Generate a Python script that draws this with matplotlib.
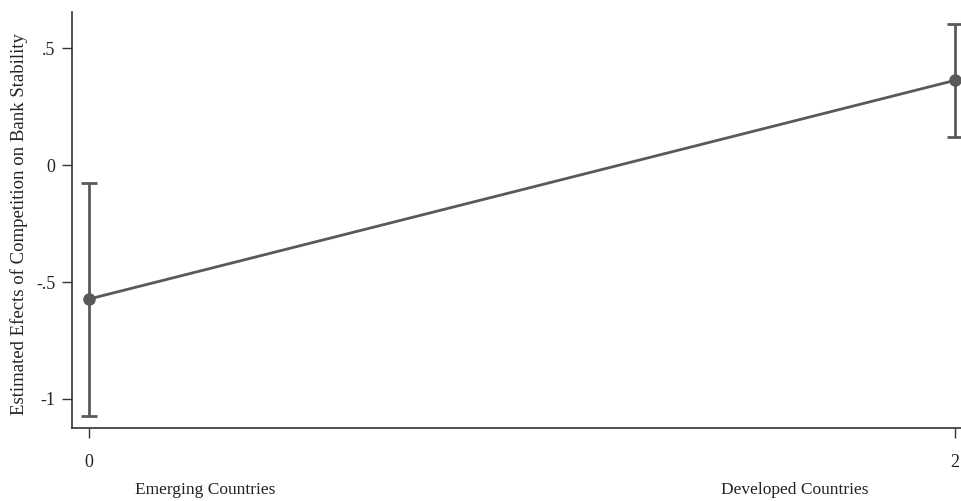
import matplotlib
matplotlib.use('Agg')
from matplotlib import pyplot as plt
import numpy as np

# margins at the two development levels
xpos = [0, 2]
margin = [-0.573, 0.362]
ci_low = [-1.073, 0.121]
ci_high = [-0.077, 0.603]
yticks = [-1, -0.5, 0, 0.5]
yticklabels = ['-1', '-.5', '0', '.5']
group_labels = ['Emerging Countries', 'Developed Countries']

plt.rcParams['font.family'] = ['Liberation Serif', 'DejaVu Serif']
grey = '#595959'

fig = plt.figure(figsize=(9.62, 5.01), dpi=100)
ax = fig.add_axes([72 / 962, 1 - 428 / 501, 890 / 962, 416 / 501])

margin = np.array(margin)
yerr = [margin - np.array(ci_low), np.array(ci_high) - margin]
ax.errorbar(xpos, margin, yerr=yerr, color=grey, lw=2, marker='o', ms=8,
            capsize=6, capthick=2, elinewidth=2)

ax.set_xlim(-0.039, 2.016)
ax.set_ylim(-1.124, 0.654)
ax.set_xticks(xpos)
ax.set_xticklabels(['0', '2'])
ax.set_yticks(yticks)
ax.set_yticklabels(yticklabels)
ax.tick_params(direction='out', length=7, width=1, color='#333333',
               labelsize=13, pad=5, labelcolor='#222222')
ax.tick_params(axis='x', pad=12)
for s in ['top', 'right']:
    ax.spines[s].set_visible(False)
for s in ['left', 'bottom']:
    ax.spines[s].set_color('#333333')
    ax.spines[s].set_linewidth(1.2)

ax.set_ylabel('Estimated Efects of Competition on Bank Stability', fontsize=13.5,
              color='#222222')
ax.yaxis.set_label_coords(-44 / 890, 0.49)

fig.text(205 / 962, 1 - 490 / 501, group_labels[0], ha='center', va='center',
         fontsize=12.5, color='#222222')
fig.text(795 / 962, 1 - 490 / 501, group_labels[1], ha='center', va='center',
         fontsize=12.5, color='#222222')

fig.savefig('out.png', dpi=100)
